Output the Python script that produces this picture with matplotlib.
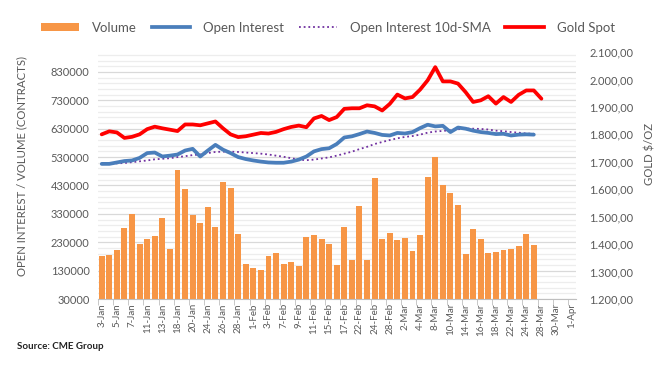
import matplotlib
matplotlib.use("Agg")
import matplotlib.pyplot as plt
from matplotlib.patches import Patch
from matplotlib.lines import Line2D
from matplotlib.ticker import FuncFormatter, MultipleLocator, FixedLocator
import numpy as np

plt.rcParams['font.family'] = ['Lato', 'DejaVu Sans']

dates = ["3-Jan", "4-Jan", "5-Jan", "6-Jan", "7-Jan", "10-Jan", "11-Jan", "12-Jan", "13-Jan", "14-Jan",
         "18-Jan", "19-Jan", "20-Jan", "21-Jan", "24-Jan", "25-Jan", "26-Jan", "27-Jan", "28-Jan", "31-Jan",
         "1-Feb", "2-Feb", "3-Feb", "4-Feb", "7-Feb", "8-Feb", "9-Feb", "10-Feb", "11-Feb", "14-Feb",
         "15-Feb", "16-Feb", "17-Feb", "18-Feb", "22-Feb", "23-Feb", "24-Feb", "25-Feb", "28-Feb",
         "1-Mar", "2-Mar", "3-Mar", "4-Mar", "7-Mar", "8-Mar", "9-Mar", "10-Mar", "11-Mar", "14-Mar",
         "15-Mar", "16-Mar", "17-Mar", "18-Mar", "21-Mar", "22-Mar", "23-Mar", "24-Mar", "25-Mar",
         "28-Mar", "29-Mar", "30-Mar", "31-Mar", "1-Apr"]

volume = [181000, 185000, 202000, 279000, 329000, 224000, 241000, 252000, 315000, 205000,
          484000, 417000, 325000, 297000, 353000, 283000, 442000, 422000, 259000, 153000,
          138000, 131000, 181000, 191000, 153000, 161000, 145000, 248000, 256000, 241000,
          224000, 149000, 283000, 166500, 357000, 166500, 456000, 241000, 262000,
          237000, 244000, 198000, 255000, 459000, 530000, 431000, 403000, 361000, 188000,
          276000, 241000, 191000, 195000, 202000, 205000, 216000, 258000, 219000]

open_interest = [506000, 506000, 511000, 516000, 518000, 527000, 544000, 546000, 532000, 535000,
                 539000, 553000, 559000, 532000, 553000, 573000, 556000, 544000, 530000, 523000,
                 518000, 514000, 511000, 510000, 510000, 514000, 521000, 532000, 550000, 558000,
                 561000, 576000, 599000, 603000, 611000, 620000, 615000, 608000, 606000,
                 615000, 613000, 618000, 632000, 644000, 638000, 640000, 618000, 634000, 630000,
                 623000, 618000, 615000, 611000, 612000, 606000, 609000, 610000, 609000]

oi_sma10 = [505000, 506000, 508000, 509000, 512000, 515000, 518000, 522000, 524000, 526000,
            530000, 533000, 537000, 539000, 544000, 548000, 549000, 549000, 548000, 546000,
            544000, 542000, 539000, 535000, 531000, 526000, 521000, 519000, 521000, 525000,
            529000, 535000, 542000, 549000, 558000, 566000, 576000, 583000, 590000,
            596000, 601000, 604000, 609000, 616000, 620000, 622000, 625000, 628000, 630000,
            630000, 629000, 627000, 623000, 621000, 618000, 616000, 613000, 612000]

gold_spot = [1800, 1811, 1807, 1787, 1791, 1800, 1819, 1828, 1822, 1817,
             1812, 1836, 1836, 1833, 1840, 1847, 1822, 1800, 1790, 1793,
             1799, 1805, 1803, 1809, 1819, 1827, 1832, 1826, 1858, 1867,
             1852, 1863, 1893, 1895, 1895, 1906, 1902, 1887, 1911,
             1945, 1931, 1936, 1963, 1997, 2045, 1993, 1993, 1985, 1954,
             1918, 1924, 1939, 1912, 1936, 1918, 1944, 1960, 1960, 1930]

ORANGE = "#F79646"
BLUE = "#4A7EBB"
PURPLE = "#7030A0"
RED = "#FF0000"
TXT = "#595959"

fig = plt.figure(figsize=(6.72, 3.69), dpi=100)
ax = fig.add_axes([0.1457, 0.1897, 0.7107, 0.6693])
ax2 = ax.twinx()

x_all = np.arange(len(dates))
xv = np.arange(len(volume))
xo = np.arange(len(open_interest))
xs = np.arange(len(oi_sma10))
xg = np.arange(len(gold_spot))

ax.bar(xv, volume, width=0.78, color=ORANGE, zorder=2, bottom=0)
ax.plot(xs, oi_sma10, color=PURPLE, lw=1.3, ls=(0, (1, 1.6)), zorder=3)
ax.plot(xo, open_interest, color=BLUE, lw=2.7, zorder=4, solid_capstyle='round')
ax2.plot(xg, gold_spot, color=RED, lw=2.7, zorder=5, solid_capstyle='round')

ax.set_xlim(-0.5, len(dates) - 0.5)
ax.set_ylim(30000, 900000)
ax2.set_ylim(1200, 2100)

ax.yaxis.set_major_locator(FixedLocator(np.arange(30000, 830001, 100000)))
ax.yaxis.set_minor_locator(FixedLocator(np.arange(50000, 900000, 20000)))
ax.grid(True, which='major', axis='y', color='#D9D9D9', lw=0.9, zorder=0)
ax.grid(True, which='minor', axis='y', color='#EDEDED', lw=0.9, zorder=0)
ax.set_axisbelow(True)

ax2.yaxis.set_major_locator(MultipleLocator(100))

def euro(v, pos):
    s = f"{v:,.2f}"
    return s.replace(",", "X").replace(".", ",").replace("X", ".")

ax2.yaxis.set_major_formatter(FuncFormatter(euro))
ax.yaxis.set_major_formatter(FuncFormatter(lambda v, p: f"{int(round(v))}"))

ax.set_xticks(x_all[::2])
ax.set_xticklabels(dates[::2], rotation=90, fontsize=7, color=TXT)
ax.tick_params(axis='x', length=0, pad=3)
ax.set_xticks(np.arange(-0.5, len(dates), 2), minor=True)
ax.tick_params(axis='x', which='minor', length=4, color='#BFBFBF')

ax.tick_params(axis='y', which='both', length=0, labelsize=8, labelcolor=TXT, pad=6)
ax2.tick_params(axis='y', which='both', length=0, labelsize=8, labelcolor=TXT, pad=10)

for a in (ax, ax2):
    for side in ('top', 'left', 'right'):
        a.spines[side].set_visible(False)
    a.spines['bottom'].set_color('#BFBFBF')
ax2.spines['bottom'].set_visible(False)

fig.text(0.033, 0.55, "OPEN INTEREST / VOLUME (CONTRACTS)", rotation=90, ha='center', va='center',
         fontsize=8.2, color=TXT)
fig.text(0.967, 0.583, "GOLD $/OZ", rotation=90, ha='center', va='center', fontsize=8.2, color=TXT)
fig.text(0.025, 0.06, "Source: CME Group", fontsize=7, color='#222222', fontweight='bold',
         ha='left', va='center')

handles = [Patch(facecolor=ORANGE, edgecolor='none'),
           Line2D([0], [0], color=BLUE, lw=2.7),
           Line2D([0], [0], color=PURPLE, lw=1.3, ls=(0, (1, 1.6))),
           Line2D([0], [0], color=RED, lw=2.7)]
labels = ["Volume", "Open Interest", "Open Interest 10d-SMA", "Gold Spot"]
leg = fig.legend(handles, labels, loc='center', bbox_to_anchor=(0.488, 0.925), ncol=4,
                 frameon=False, fontsize=9.5, handlelength=2.9, handleheight=0.6,
                 handletextpad=1.0, columnspacing=1.1, labelcolor=TXT)

fig.savefig("out.png", dpi=100)
